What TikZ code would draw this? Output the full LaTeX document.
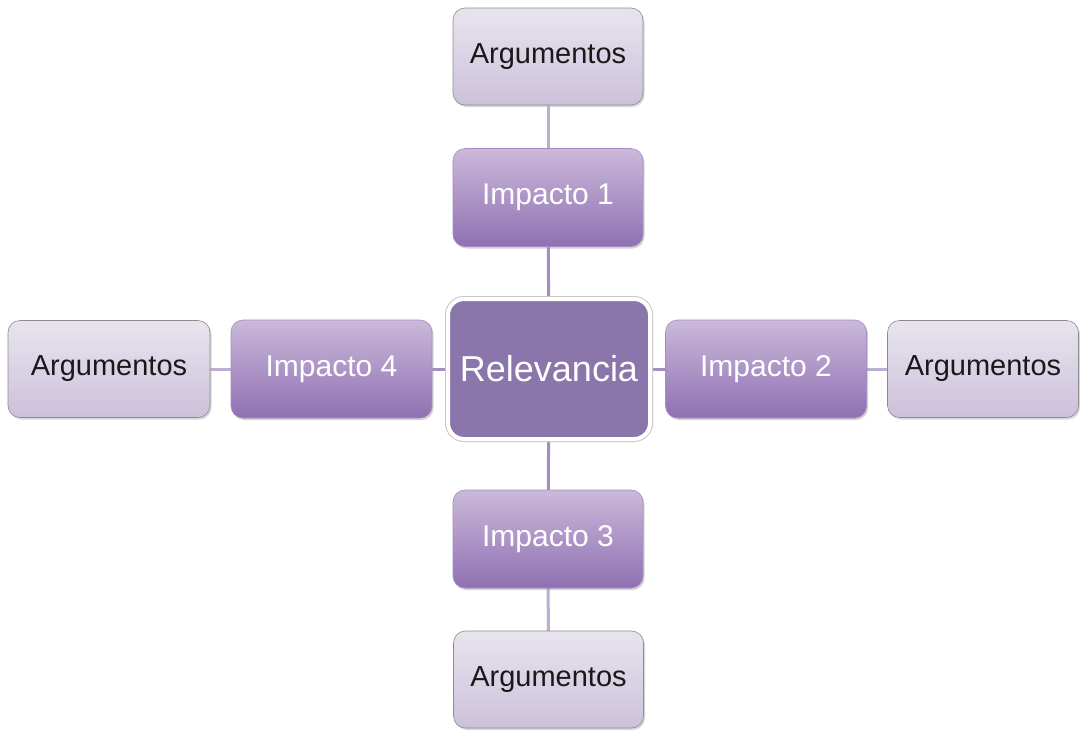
\documentclass[tikz,border=0pt]{standalone}
\usepackage{fontspec}
\setmainfont{Liberation Sans}
\usetikzlibrary{shadows}
\definecolor{imptop}{HTML}{CBB9DA}
\definecolor{impbot}{HTML}{8F70B2}
\definecolor{argtop}{HTML}{E8E4EE}
\definecolor{argbot}{HTML}{CCC1DB}
\definecolor{relfill}{HTML}{8B76AB}
\definecolor{linkA}{HTML}{A48DC0}
\definecolor{linkB}{HTML}{BBAED0}
\tikzset{
  impbox/.style={rounded corners=12pt, top color=imptop, bottom color=impbot, draw=impbot!80!white, line width=0.6pt,
    minimum width=190pt, minimum height=98pt, text=white, font=\fontsize{30}{34}\selectfont,
    drop shadow={shadow xshift=1.5pt, shadow yshift=-2pt, fill=black!35, opacity=0.5}},
  argbox/.style={rounded corners=12pt, top color=argtop, bottom color=argbot, draw=black!45, line width=0.6pt,
    minimum width=190pt, minimum height=97pt, text=black!90, font=\fontsize{29}{33}\selectfont,
    drop shadow={shadow xshift=1.5pt, shadow yshift=-2pt, fill=black!30, opacity=0.5}},
  relbox/.style={rounded corners=16pt, fill=relfill, draw=white, line width=4pt,
    preaction={draw=black!22, line width=6pt},
    minimum width=202pt, minimum height=140pt, text=white, font=\fontsize{36}{40}\selectfont},
  linkin/.style={draw=linkA, line width=3pt},
  linkout/.style={draw=linkB, line width=3pt}
}
\begin{document}
\begin{tikzpicture}[x=1pt,y=-1pt]
\useasboundingbox (0,0) rectangle (1080,731);
\fill[white] (0,0) rectangle (1080,731);
% positions
\coordinate (cR) at (549,369);
\coordinate (cI1) at (548,197.5);
\coordinate (cI3) at (548,539);
\coordinate (cI4) at (331.5,369);
\coordinate (cI2) at (766,369);
\coordinate (cA1) at (548,56.5);
\coordinate (cA3) at (548.5,679.5);
\coordinate (cA4) at (109,369);
\coordinate (cA2) at (983,369);
% connectors (behind boxes)
\path[linkin] (cR) -- (cI1);
\path[linkin] (cR) -- (cI3);
\path[linkin] (cR) -- (cI4);
\path[linkin] (cR) -- (cI2);
\path[linkout] (cI1) -- (cA1);
\path[linkout] (cI3) -- (cA3);
\path[linkout] (cI4) -- (cA4);
\path[linkout] (cI2) -- (cA2);
% boxes
\node[relbox] (rel) at (cR) {Relevancia};
\node[impbox] (i1) at (cI1) {Impacto 1};
\node[impbox] (i3) at (cI3) {Impacto 3};
\node[impbox, minimum width=201pt] (i4) at (cI4) {Impacto 4};
\node[impbox, minimum width=201pt] (i2) at (cI2) {Impacto 2};
\node[argbox] (a1) at (cA1) {Argumentos};
\node[argbox] (a3) at (cA3) {Argumentos};
\node[argbox, minimum width=202pt] (a4) at (cA4) {Argumentos};
\node[argbox, minimum width=191pt] (a2) at (cA2) {Argumentos};
\end{tikzpicture}
\end{document}
